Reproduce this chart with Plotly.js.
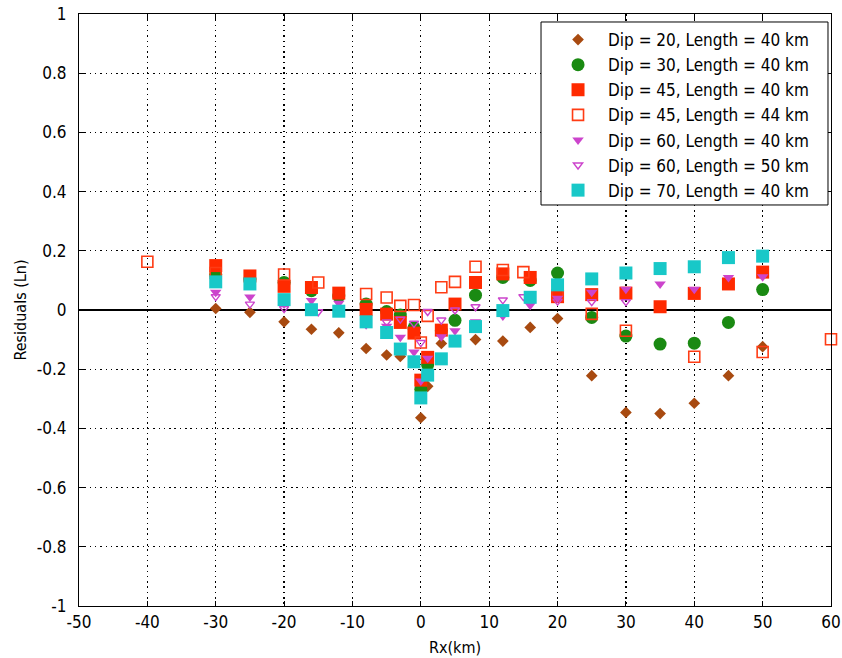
<!DOCTYPE html>
<html>
<head>
<meta charset="utf-8">
<script src="https://cdn.plot.ly/plotly-3.0.1.min.js"></script>
<style>
  html, body { margin: 0; padding: 0; background: #ffffff; }
  #chart { width: 842px; height: 658px; }
</style>
</head>
<body>
<div id="chart"></div>
<script>
// Axis ticks and labels
const xTickVals = [-50, -40, -30, -20, -10, 0, 10, 20, 30, 40, 50, 60];
const xTickText = ['-50', '-40', '-30', '-20', '-10', '0', '10', '20', '30', '40', '50', '60'];
const yTickVals = [-1, -0.8, -0.6, -0.4, -0.2, 0, 0.2, 0.4, 0.6, 0.8, 1];
const yTickText = ['-1', '-0.8', '-0.6', '-0.4', '-0.2', '0', '0.2', '0.4', '0.6', '0.8', '1'];

// Series names (legend)
const seriesNames = [
  'Dip = 20, Length = 40 km',
  'Dip = 30, Length = 40 km',
  'Dip = 45, Length = 40 km',
  'Dip = 45, Length = 44 km',
  'Dip = 60, Length = 40 km',
  'Dip = 60, Length = 50 km',
  'Dip = 70, Length = 40 km'
];

// Rx sites (km)
const rxDip20 = [-30, -25, -20, -16, -12, -8, -5, -3, 0, 1, 3, 8, 12, 16, 20, 25, 30, 35, 40, 45, 50];
const rxL40 = [-30, -25, -20, -16, -12, -8, -5, -3, -1, 0, 1, 3, 5, 8, 12, 16, 20, 25, 30, 35, 40, 45, 50];
const rxL44 = [-40, -30, -20, -15, -8, -5, -3, -1, 0, 1, 3, 5, 8, 12, 15, 20, 25, 30, 40, 50, 60];
const rxL50 = [-30, -25, -20, -15, -5, -3, -1, 0, 1, 3, 5, 8, 12, 15, 20, 25, 30];

// Residuals (Ln)
const resDip20L40 = [0.005, -0.008, -0.04, -0.065, -0.077, -0.13, -0.152, -0.157, -0.364, -0.258, -0.113,
  -0.1, -0.105, -0.059, -0.029, -0.222, -0.346, -0.35, -0.315, -0.222, -0.124];
const resDip30L40 = [0.12, 0.105, 0.093, 0.065, 0.047, 0.02, -0.005, -0.017, -0.06, -0.268, -0.186, -0.07,
  -0.035, 0.05, 0.11, 0.1, 0.125, -0.025, -0.088, -0.115, -0.112, -0.042, 0.069];
const resDip45L40 = [0.15, 0.115, 0.08, 0.076, 0.057, 0.002, -0.014, -0.042, -0.078, -0.237, -0.16, -0.068,
  0.02, 0.093, 0.122, 0.11, 0.045, 0.052, 0.057, 0.011, 0.056, 0.088, 0.128];
const resDip45L44 = [0.163, 0.125, 0.12, 0.093, 0.054, 0.042, 0.014, 0.017, -0.11, -0.02, 0.077, 0.095,
  0.146, 0.135, 0.128, 0.05, -0.013, -0.07, -0.158, -0.142, -0.099];
const resDip60L40 = [0.06, 0.044, 0.02, 0.032, 0.023, -0.05, -0.055, -0.092, -0.142, -0.24, -0.163, -0.09,
  -0.07, -0.04, -0.02, 0.016, 0.04, 0.06, 0.07, 0.088, 0.07, 0.11, 0.112];
const resDip60L50 = [0.045, 0.02, 0.005, -0.006, -0.04, -0.031, -0.045, -0.11, -0.005, -0.034, 0.0, 0.011,
  0.034, 0.045, 0.03, 0.028, 0.028];
const resDip70L40 = [0.095, 0.088, 0.035, 0.001, -0.004, -0.04, -0.076, -0.132, -0.175, -0.297, -0.22, -0.165,
  -0.105, -0.056, -0.002, 0.043, 0.085, 0.105, 0.125, 0.14, 0.146, 0.177, 0.182];

const FONT = '"DejaVu Sans Condensed", "Liberation Sans", Arial, sans-serif';

function series(i, x, y, marker) {
  return {
    type: 'scatter', mode: 'markers', name: seriesNames[i], x: x, y: y,
    legendgroup: 'g' + i, marker: marker, cliponaxis: false
  };
}

const traces = [
  series(0, rxDip20, resDip20L40, { symbol: 'diamond', size: 9, color: '#a84a10', line: { width: 0 } }),
  series(1, rxL40, resDip30L40, { symbol: 'circle', size: 13, color: '#1a8a12', line: { width: 0 } }),
  series(2, rxL40, resDip45L40, { symbol: 'square', size: 13, color: '#ff2a00', line: { width: 0 } }),
  series(3, rxL44, resDip45L44, { symbol: 'square-open', size: 11, color: '#ff3c14', line: { width: 1.6 } }),
  series(4, rxL40, resDip60L40, { symbol: 'triangle-down', size: 10, color: '#cc44cc', line: { width: 0 } }),
  series(5, rxL50, resDip60L50, { symbol: 'triangle-down-open', size: 8, color: '#cc44cc', line: { width: 1.4 } }),
  series(6, rxL40, resDip70L40, { symbol: 'square', size: 13, color: '#18c8c8', line: { width: 0 } })
];

const axisCommon = {
  showline: true, linecolor: '#000', linewidth: 1, mirror: 'ticks',
  ticks: 'inside', ticklen: 5, tickwidth: 1, tickcolor: '#000',
  showgrid: true, gridcolor: '#000', gridwidth: 1.2, griddash: '1.5px,3.8px',
  tickfont: { family: FONT, size: 17, color: '#000' }
};

const layout = {
  width: 842, height: 658,
  margin: { l: 79, r: 11, t: 14, b: 52 },
  paper_bgcolor: '#ffffff', plot_bgcolor: '#ffffff',
  font: { family: FONT, color: '#000' },
  showlegend: true,
  xaxis: Object.assign({}, axisCommon, {
    range: [-50, 60], tickmode: 'array', tickvals: xTickVals, ticktext: xTickText,
    zeroline: false, ticklabelstandoff: 1,
    title: { text: 'Rx(km)', font: { family: FONT, size: 16, color: '#000' }, standoff: 10 }
  }),
  yaxis: Object.assign({}, axisCommon, {
    range: [-1, 1], tickmode: 'array', tickvals: yTickVals, ticktext: yTickText,
    zeroline: true, zerolinecolor: '#000', zerolinewidth: 1.3, ticklabelstandoff: 8,
    title: { text: 'Residuals (Ln)', font: { family: FONT, size: 16, color: '#000' }, standoff: 6 }
  }),
  legend: {
    x: 0.6144, y: 0.9865, xanchor: 'left', yanchor: 'top',
    bgcolor: 'rgba(0,0,0,0)', borderwidth: 0,
    font: { family: FONT, size: 17, color: '#000' },
    tracegroupgap: 0, itemwidth: 50, indentation: 7
  },
  shapes: [{
    type: 'rect', xref: 'paper', yref: 'paper', layer: 'above',
    x0: 0.6144, x1: 0.996, y0: 0.6774, y1: 0.9865,
    fillcolor: '#ffffff', line: { color: '#000', width: 1 }
  }]
};

Plotly.newPlot('chart', traces, layout, { displayModeBar: false, staticPlot: true });
</script>
</body>
</html>
